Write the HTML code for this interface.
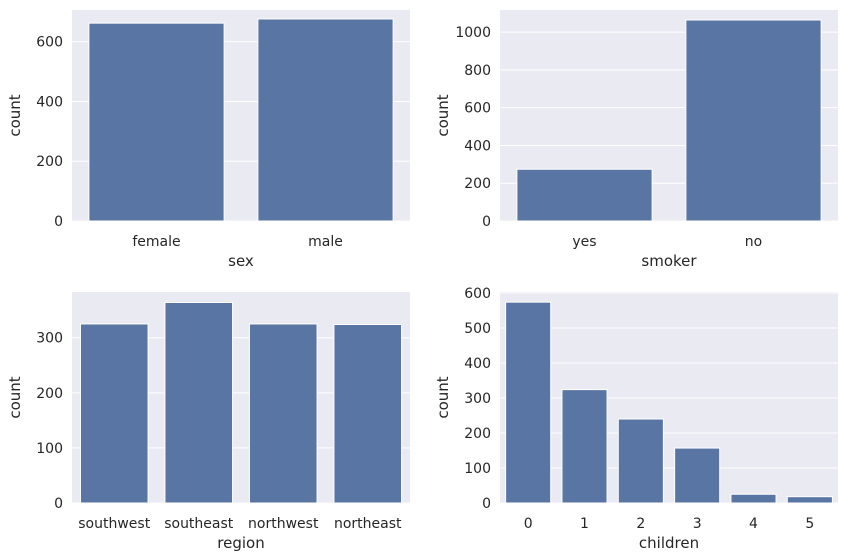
<!DOCTYPE html>
<html><head><meta charset="utf-8"><style>
html,body{margin:0;padding:0;background:#fff;}
svg{display:block;font-family:"DejaVu Sans","Liberation Sans",sans-serif;}
</style></head><body>
<svg id="c" width="848" height="560" xmlns="http://www.w3.org/2000/svg"></svg>
<script>
const sexCats=["female","male"];
const sexVals=[662,676];
const smokerCats=["yes","no"];
const smokerVals=[274,1064];
const regionCats=["southwest","southeast","northwest","northeast"];
const regionVals=[325,364,325,324];
const childCats=["0","1","2","3","4","5"];
const childVals=[574,324,240,157,25,18];
const sexTicks=[0,200,400,600];
const smokerTicks=[0,200,400,600,800,1000];
const regionTicks=[0,100,200,300];
const childTicks=[0,100,200,300,400,500,600];

const NS="http://www.w3.org/2000/svg";
const svg=document.getElementById('c');
function mk(tag,attrs,parent){const e=document.createElementNS(NS,tag);for(const k in attrs)e.setAttribute(k,attrs[k]);(parent||svg).appendChild(e);return e;}

function panel(name,x0,x1,y0,y1,ymax,cats,vals,ticks,xlabel){
  const g=mk('g',{});
  
  
  const bg=mk('rect',{x:x0,y:y0,width:x1-x0,height:y1-y0,fill:'#eaeaf2'},g);
  
  
  const ys=v=>y1-(v/ymax)*(y1-y0);
  const band=(x1-x0)/cats.length;
  ticks.forEach(t=>{
    const y=ys(t);
    const gl=mk('line',{x1:x0,x2:x1,y1:y,y2:y,stroke:'#fff','stroke-width':1},g);
    
    
    const tl=mk('text',{x:x0-9,y:y+5,'text-anchor':'end','font-size':14,fill:'#262626'},g);
    tl.textContent=t;
    
    
  });
  cats.forEach((c,i)=>{
    const cx=x0+band*(i+0.5);
    const w=band*0.8;
    const b=mk('rect',{x:cx-w/2,y:ys(vals[i]),width:w,height:y1-ys(vals[i]),fill:'#5975a4',stroke:'#fff','stroke-width':1},g);
    
    
    const tl=mk('text',{x:cx,y:y1+25,'text-anchor':'middle','font-size':14,fill:'#262626'},g);
    tl.textContent=c;
    
    
  });
  const xl=mk('text',{x:(x0+x1)/2,y:y1+45,'text-anchor':'middle','font-size':15,fill:'#262626'},g);
  xl.textContent=xlabel;
  
  
  const yl=mk('text',{x:0,y:0,'text-anchor':'middle','font-size':15,fill:'#262626',transform:`translate(${x0-52},${(y0+y1)/2}) rotate(-90)`},g);
  yl.textContent='count';
  
  
}
panel('sex',72,410,10,221,706,sexCats,sexVals,sexTicks,'sex');
panel('smoker',500,838,10,221,1117,smokerCats,smokerVals,smokerTicks,'smoker');
panel('region',72,410,292,503,383,regionCats,regionVals,regionTicks,'region');
panel('children',500,838,292,503,603,childCats,childVals,childTicks,'children');
</script>
</body></html>
